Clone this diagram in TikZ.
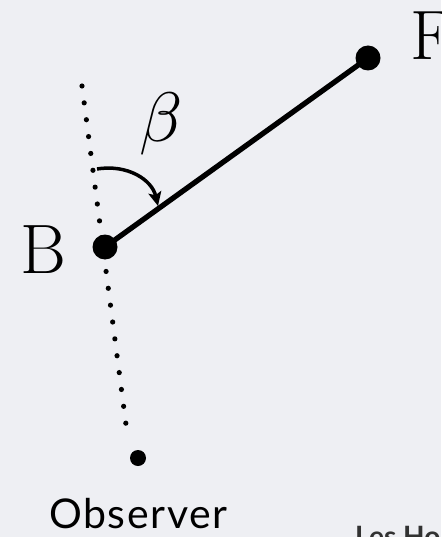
\documentclass[tikz,border=0pt]{standalone}
\usepackage{fontspec}
\newfontfamily\obsfont[LetterSpace=4]{Lato}
\newfontfamily\footfont{Lato}
\usetikzlibrary{arrows.meta}
\definecolor{bg}{RGB}{238,239,243}
\definecolor{foot}{RGB}{50,50,50}
\tikzset{
  bigdot/.style={circle,fill=black,inner sep=0pt,minimum size=#1},
  biglabel/.style={inner sep=0pt,anchor=base west,font=\fontsize{70}{80}\selectfont},
  dotline/.style={line width=5.2pt,line cap=round,dash pattern=on 0pt off 17pt},
}
\begin{document}
\begin{tikzpicture}[x=1pt,y=-1pt]
\fill[bg] (0,0) rectangle (441,537);
\useasboundingbox (0,0) rectangle (441,537);
% dotted sight line
\coordinate (top) at (82,86);
\coordinate (bot) at (128,440);
\draw[dotline] (top) -- (bot);
% points
\node[bigdot=25pt] (B) at (105,247) {};
\node[bigdot=25pt] (F) at (368,58) {};
\node[bigdot=16pt] (O) at (138,458) {};
\draw[line width=5.3pt] (B.center) -- (F.center);
% angle arrow
\coordinate (as) at (97,169);
\coordinate (ae) at (158,206);
\draw[line width=3.5pt,-{Stealth[length=14pt,width=13pt,inset=3pt]}] (as) .. controls (128,164) and (152,180) .. (ae);
% labels
\node[biglabel] (lB) at (20,273) {B};
\node[biglabel] (lF) at (410,60) {F};
\node[inner sep=0pt,anchor=base west,font=\fontsize{10}{12}\selectfont,scale=7] (lbeta) at (138,142) {$\beta$};
\node[inner sep=0pt,anchor=base west,font=\obsfont\fontsize{41}{46}\selectfont] (lO) at (49,528) {Observer};
\node[inner sep=0pt,anchor=base west,text=foot,font=\footfont\bfseries\fontsize{28}{32}\selectfont] (foot) at (355,546) {Les Ho};
\end{tikzpicture}
\end{document}
